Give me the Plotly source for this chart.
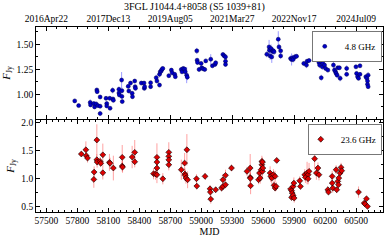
import plotly.graph_objects as go

# ---- 4.8 GHz (top panel) ----
mjd_48 = [57775, 57813, 57925, 57928, 57960, 57967, 57982, 57989, 57992, 57999,
          58021, 58021, 58021, 58078, 58085, 58085, 58114, 58117, 58142, 58145,
          58149, 58203, 58203, 58207, 58229, 58232, 58232, 58235, 58293, 58299,
          58315, 58331, 58334, 58356, 58360, 58363, 58420, 58446, 58449, 58452,
          58510, 58510, 58564, 58571, 58596, 58596, 58603, 58612, 58619, 58628,
          58686, 58711, 58718, 58743, 58749, 58807, 58814, 58826, 58839, 58845,
          58859, 58865, 58957, 58960, 58964, 58979, 58999, 59005, 59018, 59034,
          59044, 59092, 59108, 59133, 59140, 59210, 59223, 59235, 59235, 59235,
          59635, 59657, 59660, 59667, 59676, 59683, 59689, 59699, 59705, 59746,
          59753, 59769, 59769, 59865, 59875, 59885, 59890, 59906, 59923, 59993,
          60019, 60025, 60044, 60120, 60130, 60140, 60146, 60156, 60162, 60172,
          60178, 60194, 60204, 60226, 60280, 60290, 60300, 60306, 60316, 60322,
          60338, 60345, 60408, 60408, 60498, 60504, 60514, 60523, 60537, 60537,
          60594, 60604, 60610, 60616, 60610, 60616]
flux_48 = [0.935, 0.888, 0.920, 0.895, 0.908, 0.875, 0.905, 1.044, 1.027, 0.888,
           0.974, 0.882, 0.809, 0.961, 0.908, 0.885, 0.961, 0.862, 1.040, 0.954,
           0.941, 1.050, 1.014, 0.994, 1.143, 1.037, 0.980, 0.928, 1.080, 1.034,
           1.113, 1.011, 0.977, 1.133, 1.077, 1.060, 1.113, 1.113, 1.060, 1.077,
           1.116, 1.077, 1.166, 1.133, 1.200, 1.093, 1.225, 1.232, 1.249, 1.259,
           1.186, 1.242, 1.215, 1.200, 1.176, 1.249, 1.225, 1.259, 1.252, 1.225,
           1.192, 1.172, 1.434, 1.341, 1.318, 1.249, 1.309, 1.265, 1.255, 1.249,
           1.334, 1.351, 1.285, 1.299, 1.315, 1.398, 1.384, 1.374, 1.331, 1.299,
           1.400, 1.473, 1.440, 1.384, 1.457, 1.374, 1.430, 1.434, 1.424, 1.550,
           1.473, 1.434, 1.384, 1.358, 1.348, 1.364, 1.348, 1.374, 1.380, 1.309,
           1.292, 1.331, 1.338, 1.384, 1.358, 1.318, 1.292, 1.331, 1.166, 1.275,
           1.309, 1.292, 1.259, 1.242, 1.292, 1.242, 1.225, 1.209, 1.192, 1.265,
           1.265, 1.160, 1.259, 1.200, 1.275, 1.209, 1.176, 1.160, 1.285, 1.200,
           1.176, 1.160, 1.133, 1.192, 1.100, 1.077]
err_48 = [0.02, 0.015, 0.03, 0.02, 0.02, 0.02, 0.02, 0.02, 0.02, 0.02,
          0.02, 0.02, 0.02, 0.02, 0.02, 0.02, 0.02, 0.02, 0.03, 0.02,
          0.02, 0.03, 0.02, 0.02, 0.08, 0.03, 0.02, 0.02, 0.02, 0.02,
          0.02, 0.02, 0.02, 0.02, 0.02, 0.02, 0.02, 0.02, 0.02, 0.02,
          0.02, 0.02, 0.03, 0.02, 0.03, 0.02, 0.03, 0.03, 0.03, 0.02,
          0.02, 0.02, 0.02, 0.02, 0.02, 0.02, 0.02, 0.02, 0.02, 0.02,
          0.08, 0.03, 0.03, 0.02, 0.02, 0.02, 0.02, 0.02, 0.02, 0.02,
          0.02, 0.05, 0.02, 0.02, 0.02, 0.02, 0.02, 0.02, 0.02, 0.02,
          0.03, 0.07, 0.05, 0.04, 0.04, 0.06, 0.03, 0.03, 0.03, 0.08,
          0.03, 0.03, 0.03, 0.03, 0.06, 0.03, 0.03, 0.03, 0.02, 0.02,
          0.03, 0.02, 0.02, 0.03, 0.02, 0.03, 0.03, 0.04, 0.03, 0.03,
          0.03, 0.02, 0.02, 0.02, 0.03, 0.03, 0.03, 0.03, 0.03, 0.02,
          0.02, 0.03, 0.03, 0.02, 0.02, 0.02, 0.03, 0.02, 0.02, 0.02,
          0.02, 0.03, 0.02, 0.03, 0.02, 0.02]

# ---- 23.6 GHz (bottom panel) ----
mjd_236 = [57839, 57883, 57887, 57899, 57960, 57963, 57989, 57989, 57992, 58021,
           58027, 58047, 58047, 58111, 58117, 58149, 58235, 58235, 58238, 58331,
           58356, 58356, 58538, 58557, 58571, 58571, 58571, 58571, 58628, 58686,
           58686, 58686, 58686, 58807, 58839, 58842, 58845, 58852, 58861, 58868,
           58954, 58957, 59037, 59085, 59088, 59092, 59140, 59197, 59210, 59210,
           59235, 59235, 59293, 59443, 59474, 59474, 59476, 59478, 59555, 59564,
           59571, 59580, 59587, 59587, 59593, 59593, 59597, 59667, 59673, 59683,
           59699, 59705, 59715, 59715, 59725, 59731, 59865, 59875, 59875, 59881,
           59890, 59890, 59897, 59900, 59954, 59961, 60002, 60009, 60025, 60035,
           60035, 60044, 60098, 60115, 60130, 60140, 60226, 60232, 60268, 60268,
           60274, 60306, 60312, 60322, 60329, 60332, 60345, 60354, 60360, 60523,
           60578, 60587, 60600, 60610]
flux_236 = [1.434, 1.510, 1.404, 1.362, 0.982, 1.112, 1.684, 1.332, 1.291, 1.303,
            1.268, 1.420, 1.100, 1.286, 1.268, 1.184, 1.375, 1.220, 1.200, 1.380,
            1.464, 1.296, 1.083, 1.077, 1.375, 1.290, 1.184, 1.065, 0.993, 1.464,
            1.393, 1.330, 1.243, 1.154, 1.273, 1.077, 1.050, 1.005, 1.510, 0.975,
            0.993, 0.862, 1.036, 0.814, 0.755, 0.630, 0.797, 0.827, 0.857, 0.975,
            1.054, 0.886, 1.184, 1.125, 1.184, 1.018, 1.000, 0.868, 0.975, 1.095,
            1.005, 1.154, 1.243, 1.303, 1.291, 1.125, 1.184, 1.095, 1.036, 1.005,
            1.065, 0.875, 1.036, 0.827, 0.857, 1.320, 0.809, 0.779, 0.660, 0.738,
            0.857, 0.696, 0.916, 0.648, 0.957, 0.857, 1.065, 1.018, 1.095, 1.065,
            0.993, 1.125, 1.350, 1.095, 1.184, 1.065, 0.797, 0.755, 1.036, 0.916,
            0.827, 1.154, 0.797, 0.946, 0.886, 1.005, 1.095, 1.196, 1.136, 0.755,
            0.559, 0.541, 0.636, 0.500]
err_236 = [0.04, 0.15, 0.06, 0.08, 0.15, 0.10, 0.28, 0.10, 0.10, 0.08,
           0.06, 0.20, 0.12, 0.15, 0.10, 0.22, 0.22, 0.10, 0.10, 0.20,
           0.22, 0.10, 0.10, 0.10, 0.25, 0.10, 0.10, 0.15, 0.10, 0.18,
           0.10, 0.10, 0.10, 0.18, 0.18, 0.10, 0.10, 0.10, 0.28, 0.15,
           0.08, 0.06, 0.06, 0.06, 0.08, 0.08, 0.05, 0.06, 0.06, 0.10,
           0.10, 0.06, 0.06, 0.08, 0.25, 0.10, 0.10, 0.15, 0.08, 0.10,
           0.10, 0.12, 0.10, 0.10, 0.08, 0.10, 0.10, 0.12, 0.10, 0.10,
           0.10, 0.08, 0.10, 0.06, 0.08, 0.05, 0.06, 0.08, 0.06, 0.10,
           0.10, 0.08, 0.10, 0.08, 0.08, 0.06, 0.10, 0.10, 0.20, 0.10,
           0.10, 0.15, 0.20, 0.12, 0.10, 0.10, 0.06, 0.05, 0.10, 0.10,
           0.08, 0.08, 0.06, 0.10, 0.10, 0.10, 0.08, 0.08, 0.08, 0.10,
           0.04, 0.04, 0.04, 0.04]

date_tickvals = [57500, 58100, 58700, 59300, 59900, 60500]
date_ticktext = ["2016Apr22", "2017Dec13", "2019Aug05", "2021Mar27", "2022Nov17", "2024Jul09"]

FONT = "Liberation Serif"
fig = go.Figure()

fig.add_trace(go.Scatter(
    x=mjd_48, y=flux_48, mode="markers", name="4.8 GHz",
    xaxis="x2", yaxis="y2", legend="legend",
    error_y=dict(type="data", array=err_48, color="rgba(90,90,255,0.6)", thickness=1, width=0),
    marker=dict(color="#0000c8", size=4, line=dict(color="#000050", width=0.5)),
))
fig.add_trace(go.Scatter(
    x=mjd_236, y=flux_236, mode="markers", name="23.6 GHz",
    xaxis="x", yaxis="y", legend="legend2",
    error_y=dict(type="data", array=err_236, color="rgba(255,70,70,0.5)", thickness=1, width=0),
    marker=dict(color="#dd0000", size=4.5, symbol="diamond", line=dict(color="#000000", width=0.6)),
))

axis_common = dict(showline=True, linecolor="black", linewidth=0.8, showgrid=False,
                   zeroline=False, ticks="inside", tickcolor="black", tickwidth=0.8,
                   ticklen=4, tickfont=dict(family=FONT, size=9.5, color="black"))

fig.update_layout(
    width=389, height=240,
    margin=dict(l=34, r=5, t=27, b=28),
    plot_bgcolor="white", paper_bgcolor="white",
    font=dict(family=FONT, size=10, color="black"),
    title=dict(text="3FGL J1044.4+8058 (S5 1039+81)", x=0.5, xanchor="center",
               y=1 - 6.5 / 240, yanchor="middle", yref="container",
               font=dict(family=FONT, size=10, color="black")),
    xaxis=dict(domain=[0, 1], anchor="y", range=[57400, 60760],
               tickmode="linear", tick0=57500, dtick=300, tickformat="d", mirror="ticks",
               minor=dict(tickmode="linear", tick0=57500, dtick=60, ticks="inside",
                          ticklen=2, tickcolor="black", tickwidth=0.6),
               title=dict(text="MJD", font=dict(family=FONT, size=10), standoff=0),
               **axis_common),
    xaxis2=dict(domain=[0, 1], anchor="y2", range=[57400, 60760], matches="x",
                side="top", tickmode="array", tickvals=date_tickvals, ticktext=date_ticktext,
                mirror="ticks",
                minor=dict(tickmode="linear", tick0=57500, dtick=100, ticks="inside",
                           ticklen=2, tickcolor="black", tickwidth=0.6),
                **axis_common),
    yaxis=dict(domain=[0, 0.497], anchor="x", range=[0.40, 2.04],
               tickmode="linear", tick0=0, dtick=0.5, tickformat=".1f", mirror="ticks",
               minor=dict(tickmode="linear", tick0=0, dtick=0.25, ticks="inside",
                          ticklen=2, tickcolor="black", tickwidth=0.6),
               title=dict(text="<i>F</i><sub>Jy</sub>", font=dict(family=FONT, size=11), standoff=4),
               **axis_common),
    yaxis2=dict(domain=[0.503, 1], anchor="x2", range=[0.755, 1.672],
                tickmode="linear", tick0=0, dtick=0.25, tickformat=".2f", mirror="ticks",
                minor=dict(tickmode="linear", tick0=0, dtick=0.125, ticks="inside",
                           ticklen=2, tickcolor="black", tickwidth=0.6),
                title=dict(text="<i>F</i><sub>Jy</sub>", font=dict(family=FONT, size=11), standoff=4),
                **axis_common),
    legend=dict(x=0.997, y=0.978, xanchor="right", yanchor="top",
                bgcolor="white", bordercolor="#555", borderwidth=0.8,
                font=dict(family=FONT, size=9), itemwidth=30,
                tracegroupgap=0, indentation=-8),
    legend2=dict(x=0.997, y=0.476, xanchor="right", yanchor="top",
                 bgcolor="white", bordercolor="#555", borderwidth=0.8,
                 font=dict(family=FONT, size=9), itemwidth=30,
                 tracegroupgap=0, indentation=-8),
    showlegend=True,
)

fig.write_html("out.html", config={"displayModeBar": False},
               post_script="document.body.style.margin='0';document.body.style.padding='0';")
